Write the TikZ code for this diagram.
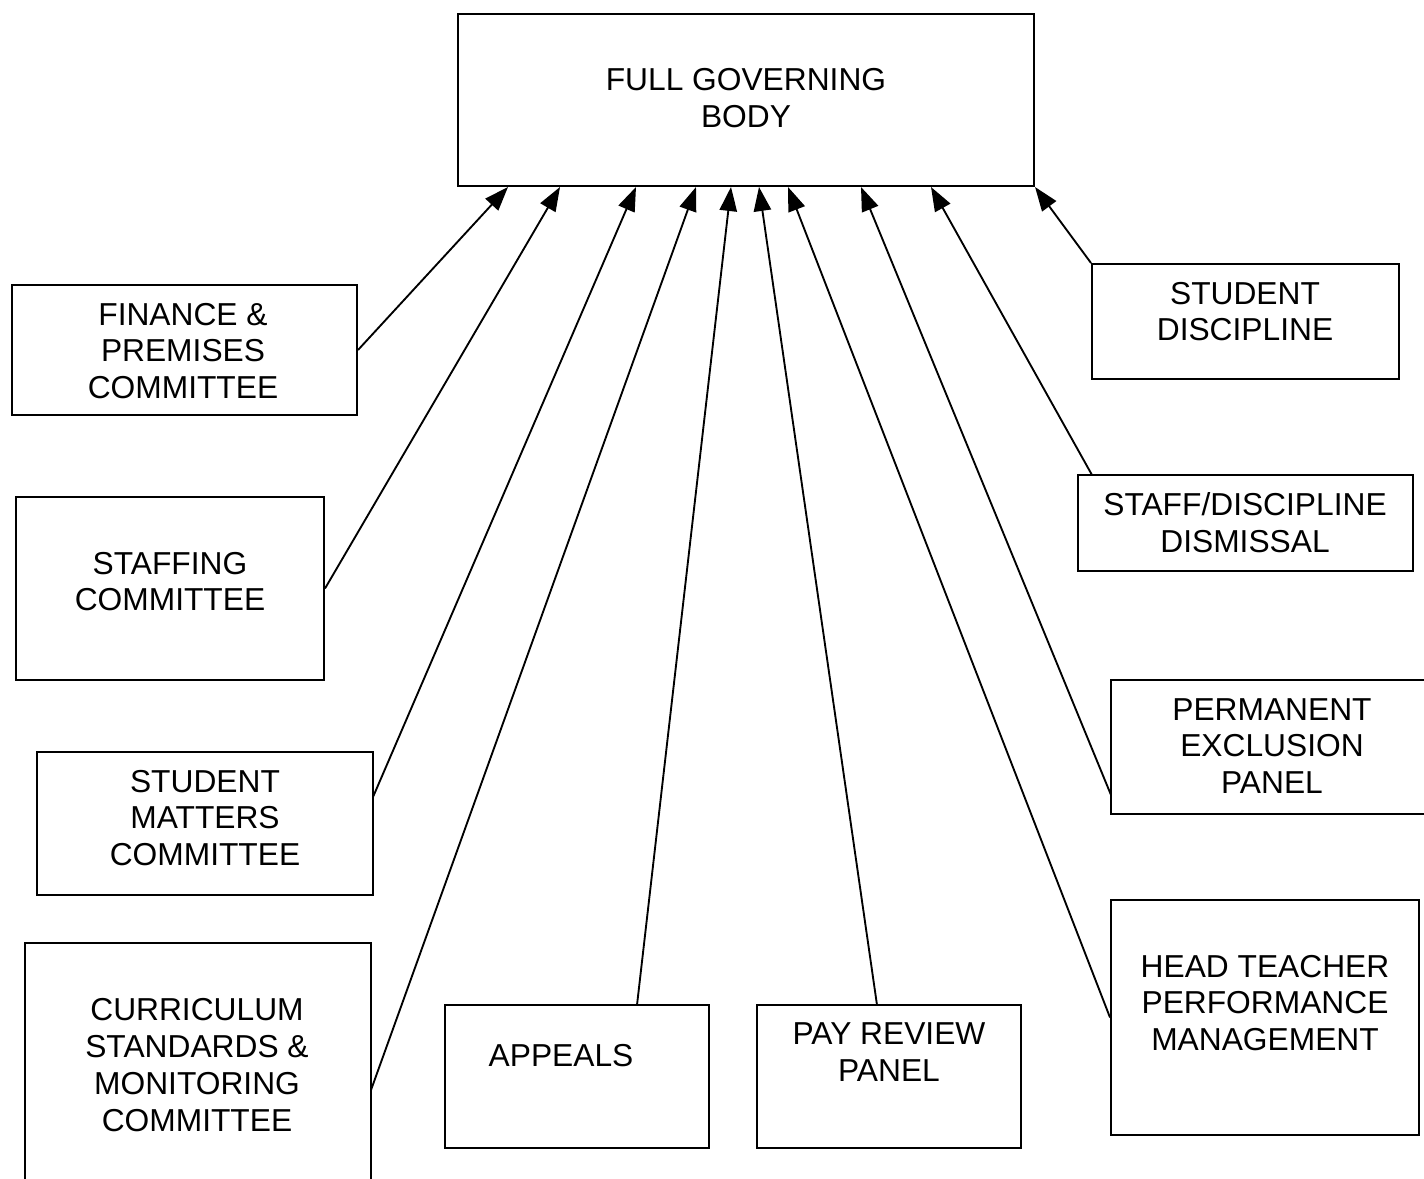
\documentclass[tikz,border=0pt]{standalone}
\usepackage{fontspec}
\setmainfont{Liberation Sans}
\usetikzlibrary{arrows.meta,calc}
\begin{document}
\begin{tikzpicture}[x=0.75pt,y=-0.75pt,
  box/.style={draw,line width=1.5pt,rectangle,inner sep=0pt},
  lbl/.style={align=center,inner sep=0pt,font=\fontsize{23.8}{27.6}\selectfont},
  conn/.style={line width=1.4pt,-{Triangle[length=18pt,width=13pt]}}]
\useasboundingbox (0,0) rectangle (1424,1178);
\clip (0,0) rectangle (1424,1178);
% boxes
\node[box,minimum width=432pt,minimum height=129pt] (fgb) at (746,100) {};
\node[box,minimum width=258.75pt,minimum height=97.5pt] (fin) at (184.5,350) {};
\node[box,minimum width=231pt,minimum height=137.25pt] (stf) at (170,588.5) {};
\node[box,minimum width=252pt,minimum height=107.25pt] (sm) at (205,823.5) {};
\node[box,minimum width=259.5pt,minimum height=192.75pt] (cur) at (198,1071.5) {};
\node[box,minimum width=198pt,minimum height=107.25pt] (app) at (577,1076.5) {};
\node[box,minimum width=198pt,minimum height=107.25pt] (pay) at (889,1076.5) {};
\node[box,minimum width=231pt,minimum height=176.25pt] (head) at (1265,1017.5) {};
\node[box,minimum width=246.75pt,minimum height=100.5pt] (perm) at (1275.5,747) {};
\node[box,minimum width=251.25pt,minimum height=72pt] (sdd) at (1245.5,523) {};
\node[box,minimum width=230.25pt,minimum height=86.25pt] (sdis) at (1245.5,321.5) {};
% labels
\node[lbl] (tfgb) at (746,98) {FULL GOVERNING\\BODY};
\node[lbl] (tfin) at (183,351) {FINANCE \&\\PREMISES\\COMMITTEE};
\node[lbl] (tstf) at (170,581.5) {STAFFING\\COMMITTEE};
\node[lbl] (tsm) at (205,818) {STUDENT\\MATTERS\\COMMITTEE};
\node[lbl] (tcur) at (197,1065) {CURRICULUM\\STANDARDS \&\\MONITORING\\COMMITTEE};
\node[lbl] (tapp) at (561,1056) {APPEALS};
\node[lbl] (tpay) at (889,1052) {PAY REVIEW\\PANEL};
\node[lbl] (thead) at (1265,1003) {HEAD TEACHER\\PERFORMANCE\\MANAGEMENT};
\node[lbl] (tperm) at (1272,746) {PERMANENT\\EXCLUSION\\PANEL};
\node[lbl] (tsdd) at (1245,523) {STAFF/DISCIPLINE\\DISMISSAL};
\node[lbl] (tsdis) at (1245,311.5) {STUDENT\\DISCIPLINE};
% connector ends
\coordinate (e1) at (508,187);
\coordinate (e2) at (560,187);
\coordinate (e3) at (636,187);
\coordinate (e4) at (696,187);
\coordinate (e5) at (731,187);
\coordinate (e6) at (759,187);
\coordinate (e7) at (788,187);
\coordinate (e8) at (861,187);
\coordinate (e9) at (931,187);
\coordinate (e10) at (1035,187);
\coordinate (s3) at (373,797);
\coordinate (s4) at (371,1090);
\coordinate (s5) at (637,1005);
\coordinate (s6) at (877,1005);
\coordinate (s8) at (1111,795);
\coordinate (s9) at (1092,475);
% connectors
\draw[conn] (fin.east) -- (e1);
\draw[conn] (stf.east) -- (e2);
\draw[conn] (s3) -- (e3);
\draw[conn] (s4) -- (e4);
\draw[conn] (s5) -- (e5);
\draw[conn] (s6) -- (e6);
\draw[conn] (head.west) -- (e7);
\draw[conn] (s8) -- (e8);
\draw[conn] (s9) -- (e9);
\draw[conn] (sdis.north west) -- (e10);
\end{tikzpicture}
\end{document}
